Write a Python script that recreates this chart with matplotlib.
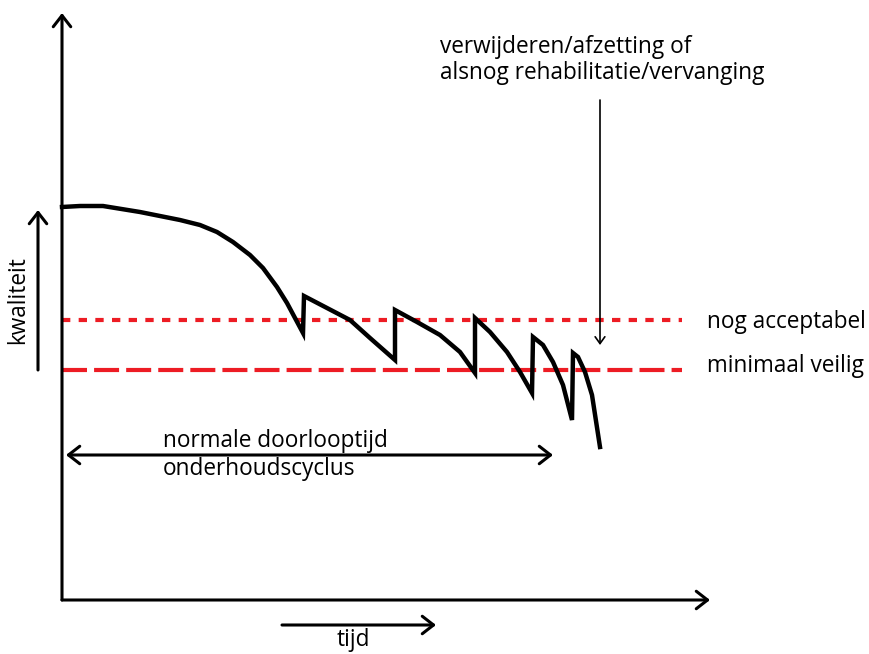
import matplotlib.pyplot as plt
import numpy as np
import matplotlib
matplotlib.rcParams['font.family'] = ['Open Sans', 'DejaVu Sans']

# quality curve (time, quality); repeated time = maintenance jump
tijd = [0, 18, 41, 78, 118, 138, 155, 171, 188, 201, 215, 225, 233, 241,
        242, 265, 288, 308, 333,
        333, 355, 378, 398, 413,
        413, 428, 445, 458, 470,
        471, 481, 491, 501, 510,
        511, 516, 523, 530, 538]
kwaliteit = [393, 394, 394, 388, 380, 375, 368, 358, 345, 332, 313, 297, 282, 267,
             304, 292, 280, 262, 240,
             290, 278, 265, 248, 227,
             282, 268, 248, 228, 207,
             263, 255, 238, 215, 180,
             247, 243, 228, 205, 153]

niveau_acceptabel = 280
niveau_veilig = 230
lijn_eind = 620
cyclus_eind = 491

fig = plt.figure(figsize=(8.69, 6.54), dpi=100)
ax = fig.add_axes([0, 0, 1, 1])
ax.set_xlim(-62, 807)
ax.set_ylim(-54, 600)
ax.axis('off')

red = '#ed1c24'
ax.plot([0, lijn_eind], [niveau_acceptabel]*2, color=red, lw=3, dashes=(2, 2))
ax.plot([0, lijn_eind], [niveau_veilig]*2, color=red, lw=3, dashes=(6, 1.7))
ax.plot(tijd, kwaliteit, color='black', lw=3.2, solid_joinstyle='miter')

def pijl(x0, y0, x1, y1, lw=2.2, style='->', hw=0.35, hl=0.45, ms=18):
    ax.annotate('', xy=(x1, y1), xytext=(x0, y0),
                arrowprops=dict(arrowstyle='%s,head_length=%s,head_width=%s' % (style, hl, hw),
                                lw=lw, color='black', shrinkA=0, shrinkB=0,
                                mutation_scale=ms))

# axes
pijl(0, 0, 0, 587)
pijl(0, 0, 648, 0)
# axis direction arrows
pijl(-24, 230, -24, 390, lw=2.2)
pijl(220, -25, 374, -25, lw=2.2)
# cycle
pijl(4, 145, cyclus_eind, 145, style='<->', lw=2.2)
# annotation arrow
pijl(538, 500, 538, 255, lw=1.2, hw=0.25, hl=0.35, ms=14)

fs = 16.3
ax.text(-44, 300, 'kwaliteit', rotation=90, ha='center', va='center', fontsize=fs)
ax.text(291, -46, 'tijd', ha='center', va='baseline', fontsize=fs)
ax.text(101, 153, 'normale doorlooptijd', ha='left', va='baseline', fontsize=fs)
ax.text(101, 125, 'onderhoudscyclus', ha='left', va='baseline', fontsize=fs)
ax.text(378, 547, 'verwijderen/afzetting of', ha='left', va='baseline', fontsize=fs)
ax.text(378, 521, 'alsnog rehabilitatie/vervanging', ha='left', va='baseline', fontsize=fs)
ax.text(645, niveau_acceptabel - 8, 'nog acceptabel', ha='left', va='baseline', fontsize=fs)
ax.text(645, niveau_veilig - 2, 'minimaal veilig', ha='left', va='baseline', fontsize=fs)

fig.savefig('out.png', dpi=100)
